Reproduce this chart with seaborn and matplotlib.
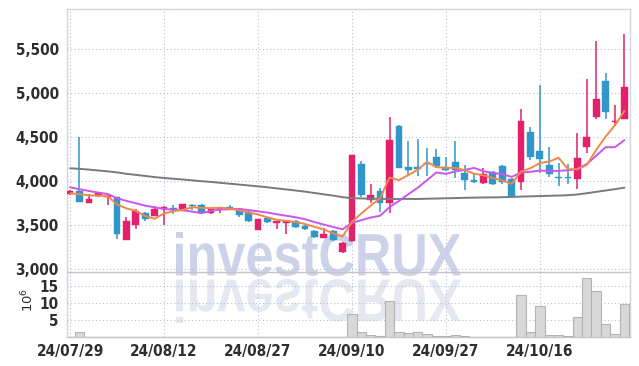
import numpy as np
import pandas as pd
import matplotlib
matplotlib.use("Agg")
import matplotlib.pyplot as plt
import seaborn as sns
from matplotlib.textpath import TextPath
from matplotlib.patches import PathPatch
from matplotlib.font_manager import FontProperties, fontManager
from matplotlib.transforms import Affine2D, IdentityTransform

# ---------------- data ----------------
dates = ["24/07/29", "24/07/30", "24/07/31", "24/08/01", "24/08/02", "24/08/05", "24/08/06", "24/08/07",
         "24/08/08", "24/08/09", "24/08/12", "24/08/13", "24/08/14", "24/08/16", "24/08/19", "24/08/20",
         "24/08/21", "24/08/22", "24/08/23", "24/08/26", "24/08/27", "24/08/28", "24/08/29", "24/08/30",
         "24/09/02", "24/09/03", "24/09/04", "24/09/05", "24/09/06", "24/09/09", "24/09/10", "24/09/11",
         "24/09/12", "24/09/13", "24/09/19", "24/09/20", "24/09/23", "24/09/24", "24/09/25", "24/09/26",
         "24/09/27", "24/09/30", "24/10/02", "24/10/04", "24/10/07", "24/10/08", "24/10/10", "24/10/11",
         "24/10/14", "24/10/15", "24/10/16", "24/10/17", "24/10/18", "24/10/21", "24/10/22", "24/10/23",
         "24/10/24", "24/10/25", "24/10/28", "24/10/29"]

opens = [3850, 3888, 3755, 3828, 3817, 3817, 3336, 3506, 3638, 3608,
         3684, 3699, 3684, 3729, 3733, 3642, 3680, 3710, 3661, 3650,
         3446, 3582, 3522, 3528, 3548, 3491, 3434, 3358, 3434, 3200,
         3324, 4194, 3786, 3891, 3755, 4625, 4160, 4163, 4210, 4273,
         4160, 4217, 4092, 4009, 3982, 4100, 4171, 4021, 3987, 4557,
         4342, 4183, 4050, 4050, 4028, 4383, 4731, 5135, 4667, 4701]
highs = [3900, 4497, 3853, 3869, 3850, 3825, 3590, 3680, 3653, 3714,
         3720, 3726, 3745, 3735, 3740, 3700, 3705, 3725, 3670, 3660,
         3575, 3595, 3550, 3560, 3560, 3510, 3445, 3465, 3445, 3305,
         4300, 4228, 3964, 3918, 4724, 4630, 4451, 4481, 4380, 4361,
         4273, 4451, 4183, 4095, 4145, 4110, 4185, 4030, 4814, 4610,
         5090, 4383, 4202, 4190, 4542, 5155, 5589, 5222, 4863, 5665]
lows = [3840, 3763, 3750, 3820, 3726, 3344, 3336, 3457, 3548, 3600,
        3499, 3630, 3670, 3672, 3640, 3630, 3635, 3670, 3596, 3540,
        3440, 3520, 3460, 3397, 3470, 3450, 3350, 3355, 3320, 3190,
        3310, 3823, 3755, 3653, 3635, 4152, 4054, 4054, 4060, 4145,
        4110, 4032, 3899, 3975, 3964, 3955, 3964, 3823, 3899, 4240,
        4089, 4050, 3945, 3970, 3907, 4315, 4701, 4701, 4625, 4701]
closes = [3888, 3767, 3797, 3862, 3839, 3404, 3548, 3658, 3570, 3684,
          3706, 3672, 3737, 3718, 3653, 3684, 3699, 3680, 3612, 3551,
          3567, 3533, 3544, 3551, 3483, 3460, 3366, 3400, 3332, 3295,
          4296, 3843, 3839, 3755, 4466, 4152, 4130, 4135, 4195, 4171,
          4120, 4126, 4013, 3985, 4081, 3964, 3990, 3823, 4682, 4270,
          4251, 4081, 4035, 4035, 4266, 4497, 4931, 4788, 4685, 5071]

ma_short = [3862, 3850, 3838, 3835, 3831, 3734, 3690, 3662, 3604, 3573,
            3633, 3658, 3674, 3703, 3697, 3693, 3698, 3687, 3666, 3645,
            3622, 3589, 3561, 3549, 3536, 3514, 3481, 3452, 3408, 3371,
            3538, 3633, 3721, 3806, 4040, 4011, 4068, 4128, 4216, 4157,
            4150, 4149, 4125, 4083, 4065, 4034, 4007, 3969, 4108, 4146,
            4203, 4221, 4264, 4134, 4134, 4183, 4353, 4503, 4633, 4794]
ma_mid = [3930, 3907, 3888, 3869, 3854, 3805, 3775, 3748, 3721, 3702,
          3684, 3674, 3668, 3654, 3635, 3663, 3678, 3680, 3685, 3671,
          3657, 3643, 3624, 3607, 3590, 3568, 3535, 3507, 3479, 3453,
          3526, 3557, 3587, 3607, 3705, 3774, 3851, 3924, 4011, 4098,
          4081, 4109, 4126, 4149, 4111, 4092, 4078, 4047, 4096, 4105,
          4119, 4114, 4116, 4121, 4140, 4193, 4287, 4384, 4384, 4464]
ma_long = [4145, 4138, 4130, 4120, 4110, 4098, 4082, 4070, 4058, 4045,
           4035, 4026, 4018, 4008, 3998, 3990, 3980, 3970, 3960, 3950,
           3940, 3930, 3917, 3905, 3893, 3880, 3865, 3850, 3835, 3818,
           3806, 3803, 3800, 3798, 3797, 3797, 3798, 3797, 3800, 3802,
           3805, 3807, 3810, 3812, 3814, 3815, 3817, 3820, 3824, 3827,
           3830, 3833, 3836, 3840, 3848, 3862, 3878, 3893, 3908, 3925]

volume_m = [0.2, 1.6, 0.15, 0.1, 0.15, 0.2, 0.15, 0.1, 0.1, 0.1,
            0.15, 0.1, 0.1, 0.1, 0.1, 0.1, 0.1, 0.1, 0.1, 0.1,
            0.15, 0.1, 0.1, 0.1, 0.1, 0.1, 0.15, 0.1, 0.1, 0.15,
            6.9, 1.6, 0.7, 0.35, 10.6, 1.6, 1.3, 1.6, 1.0, 0.3,
            0.3, 0.7, 0.35, 0.1, 0.1, 0.1, 0.1, 0.1, 12.4, 1.6,
            9.1, 0.7, 0.7, 0.4, 5.9, 17.3, 13.6, 3.9, 1.1, 9.8]

price_ticks = [3000, 3500, 4000, 4500, 5000, 5500]
vol_ticks = [5, 10, 15]
label_every = 10

# ---------------- styling ----------------
sns.set_style("white")
plt.rcParams["font.family"] = ["Liberation Sans", "DejaVu Sans"]


def pick_narrow_bold():
    """Find a narrow/condensed bold face if one is installed."""
    best = None
    for f in fontManager.ttflist:
        name = (f.name + " " + f.fname).lower()
        narrow = ("narrow" in name) or ("condensed" in name)
        is_bold = (f.weight in ("bold", 700, "semibold", 600)) or ("bold" in f.fname.lower())
        if narrow and is_bold and "oblique" not in name and "italic" not in name:
            if best is None or "liberation" in name:
                best = f.fname
    return best


nb = pick_narrow_bold()
if nb:
    TICKFP = FontProperties(fname=nb, size=11)
else:
    TICKFP = FontProperties(family=["Liberation Sans", "DejaVu Sans"], weight="bold", size=9.5)

UP = "#e2206c"
DOWN = "#3196c9"
GRID = "#b9bdd6"
FRAME = "#d2d4de"
TXT = "#2e2e2e"

W, H = 639, 366
fig = plt.figure(figsize=(W / 100, H / 100), dpi=100)
fig.patch.set_facecolor("white")

L, R = 67 / W, 630 / W
ax = fig.add_axes([L, 1 - 271.5 / H, R - L, (271.5 - 9) / H])
axv = fig.add_axes([L, 1 - 337.3 / H, R - L, (337.3 - 271.5) / H], sharex=ax)
for a in (ax, axv):
    a.patch.set_facecolor("none")

df = pd.DataFrame({"idx": np.arange(len(dates)), "date": dates, "open": opens, "high": highs,
                   "low": lows, "close": closes, "ma_s": ma_short, "ma_m": ma_mid,
                   "ma_l": ma_long, "vol": volume_m})
df["up"] = df["close"] >= df["open"]
col = np.where(df["up"], UP, DOWN)

# wicks and bodies
ax.vlines(df["idx"], df["low"], df["high"], colors=col, lw=1.1, zorder=3)
body_h = (df["close"] - df["open"]).abs().clip(lower=8)
body_b = df[["open", "close"]].min(axis=1)
ax.bar(df["idx"], body_h, bottom=body_b, width=0.72, color=col, edgecolor=col, lw=0.3, zorder=4)

# moving averages
sns.lineplot(data=df, x="idx", y="ma_l", ax=ax, color="#7a7a7a", lw=1.4, zorder=5)
sns.lineplot(data=df, x="idx", y="ma_m", ax=ax, color="#cc55ee", lw=1.4, zorder=6)
sns.lineplot(data=df, x="idx", y="ma_s", ax=ax, color="#f0884a", lw=1.4, zorder=7)

ax.set_ylim(2975, 5950)
ax.set_xlim(-0.33, 59.6)
ax.set_yticks(price_ticks)
ax.set_yticklabels([f"{t:,}" for t in price_ticks])
ax.set_xlabel("")
ax.set_ylabel("")
ax.grid(True, linestyle=(0, (1, 2.2)), color=GRID, lw=0.8, zorder=0)
ax.tick_params(axis="y", length=0, pad=6, labelcolor=TXT)
ax.tick_params(axis="x", length=0, labelbottom=False)
for lab in ax.get_yticklabels():
    lab.set_fontproperties(TICKFP)

# volume
sns.barplot(data=df, x="idx", y="vol", ax=axv, color="#d8d8d8", edgecolor="#b3b3b3",
            linewidth=0.8, width=1.0, native_scale=True, zorder=3)
axv.set_ylim(0, 19.35)
axv.set_yticks(vol_ticks)
axv.set_yticklabels([str(v) for v in vol_ticks])
axv.set_xticks(list(range(0, len(dates), label_every)))
axv.set_xticklabels([dates[i] for i in range(0, len(dates), label_every)])
axv.set_xlim(-0.33, 59.6)
axv.set_xlabel("")
axv.grid(True, linestyle=(0, (1, 2.2)), color=GRID, lw=0.8, zorder=0)
axv.tick_params(axis="y", length=0, pad=6, labelcolor=TXT)
axv.tick_params(axis="x", length=0, pad=5, labelcolor=TXT)
for lab in axv.get_yticklabels() + axv.get_xticklabels():
    lab.set_fontproperties(TICKFP)
axv.set_ylabel("")
fig.text(28 / W, 1 - 300 / H, "$10^6$", rotation=90, fontsize=9.5, color=TXT,
         ha="center", va="center")
ax.set_xticks(list(range(0, len(dates), label_every)))

for a in (ax, axv):
    for s in a.spines.values():
        s.set_color(FRAME)
        s.set_linewidth(1.0)
ax.spines["bottom"].set_color("#c4c4c8")
axv.spines["top"].set_visible(False)
axv.spines["bottom"].set_color("#c4c4c8")

# watermark with reflection
fp = FontProperties(family=["Liberation Sans", "DejaVu Sans"], weight="bold")
tp = TextPath((0, 0), "investCRUX", size=60, prop=fp)
ext = tp.get_extents()
bx0, bw, bh = 176, 285, 44
main_tr = Affine2D().translate(-ext.x0, -ext.y0).scale(bw / ext.width, bh / ext.height).translate(bx0, H - 276)
refl_tr = Affine2D().translate(-ext.x0, -ext.y0).scale(bw / ext.width, -bh / ext.height).translate(bx0, H - 279)
p1 = PathPatch(main_tr.transform_path(tp), facecolor="#ccd2e8", edgecolor="none",
               transform=IdentityTransform(), zorder=-1)
p2 = PathPatch(refl_tr.transform_path(tp), facecolor="#e5e7f1", edgecolor="none",
               transform=IdentityTransform(), zorder=-1)
fig.patches.extend([p1, p2])

fig.savefig("out.png", dpi=100, facecolor="white")
